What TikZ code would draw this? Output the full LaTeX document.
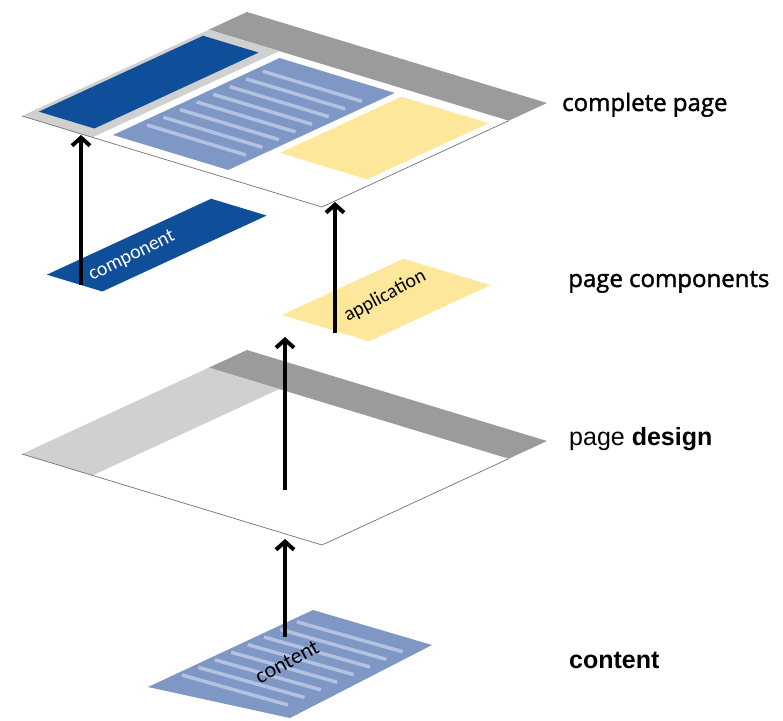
\documentclass[tikz,border=0pt]{standalone}
\usepackage{fontspec}
\setmainfont{Liberation Sans}
\newfontfamily\headfont[FakeBold=1.6]{Open Sans}
\newfontfamily\tagfont{Carlito}
\usetikzlibrary{arrows.meta}
\definecolor{compblue}{HTML}{0F4E98}
\definecolor{textblue}{HTML}{7F97C5}
\definecolor{stripeblue}{HTML}{B3C2E0}
\definecolor{appyellow}{HTML}{FDE79A}
\definecolor{banddark}{HTML}{9B9B9B}
\definecolor{bandlight}{HTML}{D0D0D0}
\tikzset{
  page/.style={x={(300pt,-91pt)},y={(225pt,104pt)}},
  uparrow/.style={line width=4pt,-{Straight Barb[length=8pt,width=18pt]}},
  stripe/.style={stripeblue,line width=3.5pt},
  pageedge/.style={black!55,line width=0.7pt},
  layerlabel/.style={anchor=base west,inner sep=0pt,font=\headfont\fontsize{24}{28}\selectfont},
  tag/.style={inner sep=0pt,font=\tagfont\fontsize{20}{22}\selectfont},
}
\begin{document}
\begin{tikzpicture}[x=1pt,y=-1pt]
\useasboundingbox (0,0) rectangle (783,720);
% complete page
\begin{scope}[shift={(22,116)},page]
  \fill[white] (0,0) -- (1,0) -- (1,1) -- (0,1) -- cycle;
  \fill[banddark] (0,0.83) -- (1,0.83) -- (1,1) -- (0,1) -- cycle;
  \fill[bandlight] (0,0) -- (0.235,0) -- (0.235,0.83) -- (0,0.83) -- cycle;
  \fill[compblue] (0.015,0.055) -- (0.2,0.055) -- (0.2,0.785) -- (0.015,0.785) -- cycle;
  \fill[textblue] (0.266,0.05) -- (0.65,0.05) -- (0.65,0.79) -- (0.266,0.79) -- cycle;
  \foreach \b in {0,...,7}
    \draw[stripe] (0.29,{0.168+0.0737*\b}) -- (0.62,{0.168+0.0737*\b});
  \fill[appyellow] (0.68,0.24) -- (0.97,0.24) -- (0.97,0.78) -- (0.68,0.78) -- cycle;
  \draw[pageedge] (0,0) -- (1,0) -- (1,0.83);
\end{scope}
% page components
\begin{scope}[shift={(30,279)},page]
  \fill[compblue] (0.015,0.055) -- (0.2,0.055) -- (0.2,0.785) -- (0.015,0.785) -- cycle;
\end{scope}
\begin{scope}[shift={(24,278)},page]
  \fill[appyellow] (0.68,0.24) -- (0.97,0.24) -- (0.97,0.78) -- (0.68,0.78) -- cycle;
\end{scope}
\node[tag,text=white,rotate=26] (comp-tag) at (132,256) {component};
\node[tag,rotate=28] (app-tag) at (385,296) {application};
% page design
\begin{scope}[shift={(22,454)},page]
  \fill[white] (0,0) -- (1,0) -- (1,1) -- (0,1) -- cycle;
  \fill[banddark] (0,0.83) -- (1,0.83) -- (1,1) -- (0,1) -- cycle;
  \fill[bandlight] (0,0) -- (0.235,0) -- (0.235,0.83) -- (0,0.83) -- cycle;
  \draw[pageedge] (0,0) -- (1,0) -- (1,0.83);
\end{scope}
% content
\fill[textblue] (148,687) -- (290,718) -- (432,645) -- (313,610) -- cycle;
\foreach \i in {0,...,7}
  \draw[stripe] ({182+16.4*\i},{675-7.6*\i}) -- ++(106,30);
\node[tag,rotate=28,font=\tagfont\fontsize{22}{24}\selectfont] (content-tag) at (287,662) {content};
% arrows
\coordinate (comp-foot) at (81,285);
\coordinate (page-hit-l) at (81,135);
\coordinate (app-foot) at (335,333);
\coordinate (page-hit-b) at (335,202);
\coordinate (design-mid) at (285,490);
\coordinate (design-up) at (285,337);
\coordinate (content-mid) at (285,637);
\coordinate (design-hit) at (285,539);
\draw[uparrow] (comp-foot) -- (page-hit-l);
\draw[uparrow] (app-foot) -- (page-hit-b);
\draw[uparrow] (design-mid) -- (design-up);
\draw[uparrow] (content-mid) -- (design-hit);
% labels
\node[layerlabel] (lbl-complete) at (562,111) {complete page};
\node[layerlabel] (lbl-components) at (568,287) {page components};
\node[layerlabel,font=\fontsize{25}{30}\selectfont] (lbl-design) at (569,445) {page \textbf{design}};
\node[layerlabel,font=\fontsize{25}{30}\selectfont] (lbl-content) at (569,668) {\textbf{content}};
\end{tikzpicture}
\end{document}
